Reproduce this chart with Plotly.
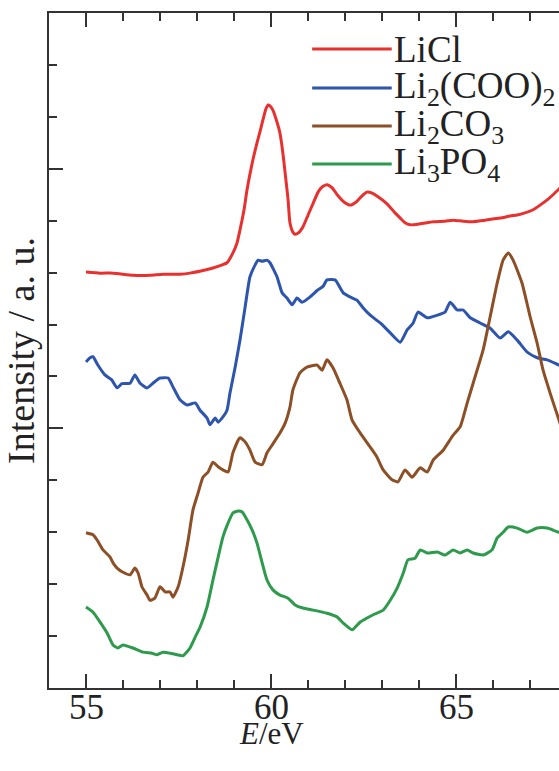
import plotly.graph_objects as go

# Li K-edge spectra, offset vertically for comparison (energy in eV, intensity in arbitrary units)
licl_e = [55.0, 55.38, 55.73, 56.27, 56.73, 57.08, 57.54, 57.81, 58.22, 58.43, 58.68, 58.81, 58.97,
          59.08, 59.16, 59.27, 59.35, 59.49, 59.62, 59.70, 59.78, 59.86, 59.92, 59.97, 60.05, 60.16,
          60.24, 60.32, 60.38, 60.46, 60.51, 60.59, 60.65, 60.73, 60.86, 61.0, 61.14, 61.27, 61.38,
          61.51, 61.65, 61.81, 61.97, 62.14, 62.30, 62.46, 62.59, 62.73, 62.89, 63.14, 63.35, 63.49,
          63.62, 63.76, 64.03, 64.38, 64.70, 64.92, 65.19, 65.46, 65.78, 66.19, 66.46, 66.65, 66.86,
          67.08, 67.27, 67.46, 67.62, 67.78, 68.0]
licl_i = [8.01, 7.99, 7.99, 7.95, 7.95, 7.97, 7.97, 7.99, 8.05, 8.09, 8.15, 8.19, 8.38,
          8.57, 8.82, 9.21, 9.59, 10.11, 10.50, 10.71, 10.94, 11.15, 11.23, 11.21, 11.13, 10.90,
          10.69, 10.30, 9.92, 9.40, 8.96, 8.78, 8.74, 8.76, 8.88, 9.11, 9.34, 9.55, 9.65,
          9.69, 9.63, 9.48, 9.36, 9.30, 9.36, 9.48, 9.55, 9.53, 9.46, 9.32, 9.15, 9.05,
          8.96, 8.92, 8.94, 8.98, 8.99, 9.01, 8.99, 8.98, 9.01, 9.05, 9.09, 9.11, 9.15,
          9.21, 9.30, 9.40, 9.50, 9.61, 9.73]

oxalate_e = [55.0, 55.11, 55.19, 55.32, 55.51, 55.70, 55.84, 55.97, 56.19, 56.32, 56.46, 56.65, 56.81,
             57.0, 57.22, 57.35, 57.54, 57.73, 57.95, 58.08, 58.27, 58.35, 58.49, 58.57, 58.70, 58.81,
             58.89, 59.03, 59.16, 59.30, 59.43, 59.57, 59.65, 59.76, 59.89, 59.97, 60.16, 60.30, 60.43,
             60.57, 60.70, 60.84, 61.05, 61.27, 61.41, 61.51, 61.73, 61.95, 62.14, 62.32, 62.49, 62.68,
             62.95, 63.22, 63.49, 63.68, 63.84, 63.97, 64.22, 64.49, 64.70, 64.84, 65.03, 65.19, 65.38,
             65.65, 65.92, 66.19, 66.41, 66.65, 66.92, 67.19, 67.46, 67.78, 68.0]
oxalate_i = [6.28, 6.36, 6.38, 6.22, 6.03, 5.93, 5.78, 5.86, 5.87, 6.03, 5.87, 5.78, 5.87,
             5.97, 5.97, 5.80, 5.55, 5.45, 5.49, 5.35, 5.20, 5.07, 5.20, 5.12, 5.22, 5.35,
             5.68, 6.18, 6.70, 7.34, 7.92, 8.15, 8.24, 8.22, 8.24, 8.19, 7.92, 7.61, 7.51,
             7.38, 7.51, 7.43, 7.53, 7.67, 7.74, 7.86, 7.86, 7.61, 7.53, 7.47, 7.32, 7.18,
             7.03, 6.84, 6.66, 6.90, 7.03, 7.24, 7.13, 7.18, 7.24, 7.43, 7.28, 7.28, 7.13,
             7.03, 6.93, 6.74, 6.86, 6.70, 6.47, 6.36, 6.32, 6.22, 6.16]

carbonate_e = [55.0, 55.19, 55.30, 55.46, 55.65, 55.73, 55.84, 56.0, 56.19, 56.32, 56.41, 56.51, 56.65,
               56.73, 56.86, 57.0, 57.14, 57.27, 57.35, 57.49, 57.62, 57.76, 57.89, 58.03, 58.16, 58.30,
               58.43, 58.57, 58.70, 58.84, 58.97, 59.16, 59.30, 59.43, 59.57, 59.76, 59.89, 60.03, 60.24,
               60.38, 60.51, 60.59, 60.78, 60.97, 61.24, 61.38, 61.51, 61.68, 61.86, 62.05, 62.19, 62.41,
               62.68, 62.86, 63.03, 63.27, 63.43, 63.62, 63.81, 64.03, 64.22, 64.38, 64.65, 64.92, 65.11,
               65.30, 65.46, 65.73, 65.92, 66.11, 66.27, 66.41, 66.54, 66.78, 67.0, 67.19, 67.35, 67.54,
               67.78, 68.0]
carbonate_i = [2.99, 2.95, 2.85, 2.66, 2.52, 2.41, 2.31, 2.23, 2.18, 2.31, 2.21, 1.95, 1.79,
               1.69, 1.73, 1.95, 1.85, 1.85, 1.75, 1.95, 2.33, 2.85, 3.43, 3.76, 4.06, 4.16,
               4.35, 4.26, 4.20, 4.16, 4.53, 4.82, 4.74, 4.58, 4.35, 4.30, 4.53, 4.68, 4.91,
               5.10, 5.41, 5.74, 6.07, 6.18, 6.22, 6.12, 6.32, 6.16, 5.87, 5.55, 5.16, 4.91,
               4.64, 4.45, 4.20, 4.01, 3.97, 4.20, 4.06, 4.24, 4.16, 4.39, 4.58, 4.87, 5.03,
               5.49, 5.87, 6.51, 7.15, 7.80, 8.24, 8.38, 8.24, 7.80, 7.15, 6.64, 6.12, 5.68,
               5.16, 4.68]

phosphate_e = [55.0, 55.19, 55.38, 55.57, 55.73, 55.86, 56.0, 56.27, 56.54, 56.78, 56.92, 57.08, 57.27,
               57.46, 57.62, 57.81, 57.95, 58.08, 58.27, 58.43, 58.57, 58.70, 58.84, 58.97, 59.11, 59.22,
               59.35, 59.49, 59.62, 59.76, 59.89, 60.05, 60.24, 60.46, 60.65, 60.86, 61.14, 61.51, 61.78,
               61.95, 62.19, 62.41, 62.76, 63.03, 63.22, 63.41, 63.57, 63.70, 63.89, 64.03, 64.22, 64.49,
               64.70, 64.92, 65.11, 65.30, 65.46, 65.73, 65.97, 66.11, 66.27, 66.41, 66.65, 66.92, 67.19,
               67.46, 67.78, 68.0]
phosphate_i = [1.56, 1.46, 1.27, 1.06, 0.83, 0.77, 0.83, 0.77, 0.69, 0.67, 0.64, 0.69, 0.67,
               0.64, 0.62, 0.77, 0.98, 1.17, 1.56, 2.08, 2.52, 2.91, 3.18, 3.37, 3.41, 3.39,
               3.24, 3.04, 2.79, 2.41, 2.08, 1.89, 1.79, 1.73, 1.60, 1.54, 1.50, 1.44, 1.37,
               1.25, 1.12, 1.27, 1.41, 1.50, 1.69, 1.93, 2.21, 2.47, 2.50, 2.66, 2.60, 2.62,
               2.56, 2.66, 2.60, 2.66, 2.60, 2.56, 2.66, 2.89, 3.00, 3.10, 3.08, 3.00, 3.08,
               3.08, 3.00, 2.99]

energy_ticks = [55, 60, 65]

series_names = ["LiCl", "Li<sub>2</sub>(COO)<sub>2</sub>", "Li<sub>2</sub>CO<sub>3</sub>",
                "Li<sub>3</sub>PO<sub>4</sub>"]
series_colors = ["#e8312f", "#2d55ad", "#8c4f26", "#2e9a4c"]
series_x = [licl_e, oxalate_e, carbonate_e, phosphate_e]
series_y = [licl_i, oxalate_i, carbonate_i, phosphate_i]

FONT = "Liberation Serif, Times New Roman, serif"
AXIS = "#333333"
TEXT = "#222222"

fig = go.Figure()
for name, color, xs, ys in zip(series_names, series_colors, series_x, series_y):
    fig.add_trace(go.Scatter(x=xs, y=ys, mode="lines", name=name, showlegend=False,
                             line=dict(color=color, width=3, shape="spline", smoothing=0.5)))

# Key drawn inside the plot: a short coloured stroke followed by the compound name
key_x0, key_x1 = 0.516, 0.672
key_rows = [0.9467, 0.8889, 0.8326, 0.7763]
for name, color, yk in zip(series_names, series_colors, key_rows):
    fig.add_shape(type="line", xref="paper", yref="paper", x0=key_x0, x1=key_x1, y0=yk, y1=yk,
                  line=dict(color=color, width=3))
    fig.add_annotation(xref="paper", yref="paper", x=key_x1, y=yk, text=name, showarrow=False,
                       xanchor="left", yanchor="middle", yshift=-1,
                       font=dict(family=FONT, size=37, color=TEXT))

# Energy tick labels set close under the axis line
for t in energy_ticks:
    fig.add_annotation(xref="x", yref="paper", x=t, y=-0.0296, text=str(t), showarrow=False,
                       xanchor="center", yanchor="middle",
                       font=dict(family=FONT, size=35, color=TEXT))

# Energy axis label, centred under the 60 eV tick
fig.add_annotation(xref="x", yref="paper", x=60.0, y=-0.0681, text="<i>E</i>/eV", showarrow=False,
                   xanchor="center", yanchor="middle",
                   font=dict(family=FONT, size=31, color=TEXT))

fig.update_layout(
    width=559, height=771,
    margin=dict(l=49, r=0, t=13, b=83),
    paper_bgcolor="white", plot_bgcolor="white",
    font=dict(family=FONT, color=TEXT),
)
fig.update_xaxes(
    range=[54, 67.78], tick0=0, dtick=5, ticks="inside", ticklen=14, tickwidth=2,
    tickcolor=AXIS, showline=True, linecolor=AXIS, linewidth=2, mirror="ticks",
    showgrid=False, zeroline=False, showticklabels=False,
    minor=dict(dtick=1, ticks="inside", ticklen=8, tickwidth=2, tickcolor=AXIS, showgrid=False),
)
fig.update_yaxes(
    range=[0, 13], tick0=0, dtick=5, ticks="inside", ticklen=14, tickwidth=2,
    tickcolor=AXIS, showline=True, linecolor=AXIS, linewidth=2, showticklabels=False,
    showgrid=False, zeroline=False,
    minor=dict(dtick=1, ticks="inside", ticklen=8, tickwidth=2, tickcolor=AXIS, showgrid=False),
    title=dict(text="Intensity / a. u.", font=dict(family=FONT, size=38, color=TEXT), standoff=2),
)

fig.write_html("out.html")
